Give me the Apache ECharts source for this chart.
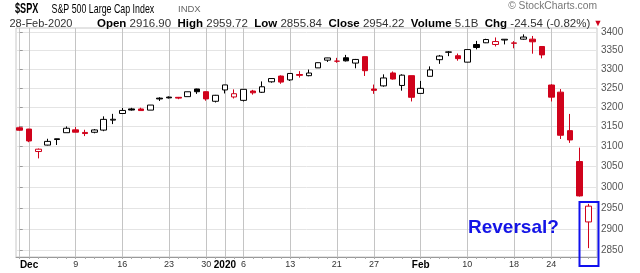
<!DOCTYPE html>
<html><head><meta charset="utf-8">
<script src="https://cdn.jsdelivr.net/npm/echarts@6/dist/echarts.min.js"></script>
<style>html,body{margin:0;padding:0;background:#fff}#c{width:640px;height:273px}</style>
</head><body><div id="c"></div>
<script>
const dates = ['2019-11-29','2019-12-02','2019-12-03','2019-12-04','2019-12-05','2019-12-06','2019-12-09','2019-12-10','2019-12-11','2019-12-12','2019-12-13','2019-12-16','2019-12-17','2019-12-18','2019-12-19','2019-12-20','2019-12-23','2019-12-24','2019-12-26','2019-12-27','2019-12-30','2019-12-31','2020-01-02','2020-01-03','2020-01-06','2020-01-07','2020-01-08','2020-01-09','2020-01-10','2020-01-13','2020-01-14','2020-01-15','2020-01-16','2020-01-17','2020-01-21','2020-01-22','2020-01-23','2020-01-24','2020-01-27','2020-01-28','2020-01-29','2020-01-30','2020-01-31','2020-02-03','2020-02-04','2020-02-05','2020-02-06','2020-02-07','2020-02-10','2020-02-11','2020-02-12','2020-02-13','2020-02-14','2020-02-18','2020-02-19','2020-02-20','2020-02-21','2020-02-24','2020-02-25','2020-02-26','2020-02-27','2020-02-28'];
const opens = [3147.18,3143.85,3087.41,3103.50,3119.21,3134.62,3141.86,3135.36,3135.75,3141.23,3166.65,3183.63,3195.40,3195.21,3192.32,3223.33,3226.05,3225.45,3227.20,3247.23,3240.09,3215.18,3244.67,3226.36,3217.55,3241.86,3238.59,3266.03,3281.27,3271.13,3285.35,3282.27,3302.97,3323.66,3321.03,3330.02,3315.77,3333.10,3247.16,3255.35,3289.46,3256.45,3282.33,3235.66,3280.61,3324.91,3344.92,3335.54,3318.28,3365.87,3370.50,3365.90,3378.08,3369.04,3380.39,3380.45,3360.50,3257.61,3238.94,3139.90,3062.54,2916.90];
const highs = [3150.30,3144.31,3094.97,3119.38,3119.45,3150.60,3148.87,3142.12,3143.98,3176.28,3182.68,3197.71,3198.22,3198.48,3205.48,3225.65,3227.78,3226.43,3240.08,3247.93,3240.92,3231.72,3258.14,3246.15,3246.84,3244.91,3267.07,3275.58,3282.99,3288.13,3294.25,3298.66,3317.11,3329.88,3329.79,3337.77,3326.88,3333.18,3258.85,3285.78,3293.47,3285.91,3282.33,3268.44,3306.92,3337.58,3347.96,3341.42,3352.26,3375.63,3381.47,3385.09,3380.69,3375.01,3393.52,3389.15,3360.76,3259.81,3246.99,3182.51,3097.07,2959.72];
const lows = [3139.34,3110.78,3070.33,3102.53,3103.76,3134.62,3135.46,3126.09,3133.21,3138.47,3156.51,3183.63,3191.03,3191.14,3192.32,3216.03,3222.30,3220.51,3227.20,3234.37,3216.57,3212.03,3235.53,3222.34,3214.64,3232.43,3236.67,3263.67,3260.86,3268.43,3277.19,3280.69,3302.82,3318.86,3316.61,3320.04,3301.87,3281.53,3234.50,3253.22,3271.89,3242.80,3214.68,3235.66,3280.61,3313.75,3334.39,3322.12,3317.77,3352.72,3369.72,3360.52,3366.15,3355.61,3378.83,3341.02,3328.45,3214.65,3118.77,3108.99,2977.39,2855.84];
const closes = [3140.98,3113.87,3093.20,3112.76,3117.43,3145.91,3135.96,3132.52,3141.63,3168.57,3168.80,3191.45,3192.52,3191.14,3205.37,3221.22,3224.01,3223.38,3239.91,3240.02,3221.29,3230.78,3257.85,3234.85,3246.28,3237.18,3253.05,3274.70,3265.35,3288.13,3283.15,3289.29,3316.81,3329.62,3320.79,3321.75,3325.54,3295.47,3243.63,3276.24,3273.40,3283.66,3225.52,3248.92,3297.59,3334.69,3345.78,3327.71,3352.09,3357.75,3379.45,3373.94,3380.16,3370.29,3386.15,3373.23,3337.75,3225.89,3128.21,3116.39,2978.76,2954.22];
const priorClose = 3153.63;
const lastVolume = '5.1B';
const labelDates = ['2019-12-02','2019-12-09','2019-12-16','2019-12-23','2019-12-30','2020-01-02','2020-01-06','2020-01-13','2020-01-21','2020-01-27','2020-02-03','2020-02-10','2020-02-18','2020-02-24'];
const labelTexts = ['Dec','9','16','23','30','2020','6','13','21','27','Feb','10','18','24'];
const boldLabels = ['Dec','2020','Feb'];
const yTicks = [2850,2900,2950,3000,3050,3100,3150,3200,3250,3300,3350,3400];
const yMin = 2835.5, yMax = 3411;

const FONT = "'Liberation Sans', Arial, sans-serif";
const RED = '#d0021b', BLACK = '#000000';
const n = dates.length;
const labelIdx = labelDates.map(d => dates.indexOf(d));
const allIdx = dates.map((d, i) => i);

const candleData = dates.map((d, i) => {
  const prev = i === 0 ? priorClose : closes[i - 1];
  const col = closes[i] < prev ? RED : BLACK;
  const fill = closes[i] > opens[i] ? '#ffffff' : col;
  return {
    value: [i, opens[i], closes[i], lows[i], highs[i]],
    itemStyle: { color: fill, color0: fill, borderColor: col, borderColor0: col, borderColorDoji: col, borderWidth: 1 }
  };
});

const last = n - 1;
const chg = closes[last] - closes[last - 1];
const pct = chg / closes[last - 1] * 100;
const mon = ['Jan','Feb','Mar','Apr','May','Jun','Jul','Aug','Sep','Oct','Nov','Dec'];
const ld = dates[last].split('-');
const dateStr = ld[2] + '-' + mon[+ld[1] - 1] + '-' + ld[0];
const infoText = '{b|Open} ' + opens[last].toFixed(2) + '  {b|High} ' + highs[last].toFixed(2) +
  '  {b|Low} ' + lows[last].toFixed(2) + '  {b|Close} ' + closes[last].toFixed(2) +
  '  {b|Volume} ' + lastVolume + '  {b|Chg} ' + chg.toFixed(2) + ' (' + pct.toFixed(2) + '%) {r|▼}';

const xMin = -0.4, xMax = 61.9;
const chart = echarts.init(document.getElementById('c'), null, { renderer: 'canvas' });
chart.setOption({
  animation: false,
  backgroundColor: '#ffffff',
  grid: { left: 16, right: 43, top: 28, bottom: 16, show: true, borderColor: '#c8c8c8', borderWidth: 1, backgroundColor: '#ffffff' },
  xAxis: [{
    type: 'value', min: xMin, max: xMax, position: 'bottom',
    axisLine: { show: true, lineStyle: { color: '#999' } },
    axisTick: { show: true, customValues: allIdx, length: 2, lineStyle: { color: '#aaa' } },
    axisLabel: {
      customValues: labelIdx, margin: 3, fontSize: 9, color: '#333', fontFamily: FONT,
      formatter: v => {
        const t = labelTexts[labelIdx.indexOf(v)];
        return boldLabels.indexOf(t) >= 0 ? '{b|' + t + '}' : t;
      },
      rich: { b: { fontWeight: 'bold', fontSize: 10, color: '#000', fontFamily: FONT } }
    },
    splitLine: { show: false }
  }],
  yAxis: {
    type: 'log', logBase: 10, position: 'right', min: yMin, max: yMax,
    axisLine: { show: true, lineStyle: { color: '#c8c8c8' } },
    axisTick: { show: true, customValues: yTicks, length: 3, lineStyle: { color: '#999' } },
    axisLabel: { customValues: yTicks, color: '#555', fontSize: 10, margin: 4, fontFamily: FONT, formatter: v => String(Math.round(v)) },
    splitLine: { show: true, lineStyle: { color: '#e4e4e4' } }
  },
  series: [
    {
      type: 'candlestick', z: 3, barWidth: 6,
      encode: { x: 0, y: [1, 2, 3, 4] },
      data: candleData,
      markLine: {
        z: 1, silent: true, symbol: ['none', 'none'], label: { show: false },
        lineStyle: { color: '#c4c4c4', type: 'solid', width: 1, opacity: 1 },
        emphasis: { disabled: true },
        data: labelIdx.map(i => [{ coord: [i, yMin] }, { coord: [i, yMax] }])
      }
    }
  ],
  graphic: [
    { type: 'text', x: 15, y: 9, scaleX: 0.65, style: { text: '$SPX', font: 'bold 14px ' + FONT, fill: '#000', verticalAlign: 'middle' } },
    { type: 'text', x: 51.5, y: 9, scaleX: 0.68, style: { text: 'S&P 500 Large Cap Index', font: '13px ' + FONT, fill: '#000', verticalAlign: 'middle' } },
    { type: 'text', x: 178, y: 9.5, style: { text: 'INDX', font: '9.5px ' + FONT, fill: '#666', verticalAlign: 'middle' } },
    { type: 'text', x: 9.5, y: 23.5, style: { text: dateStr, font: '11px ' + FONT, fill: '#333', verticalAlign: 'middle' } },
    { type: 'text', x: 97, y: 23.5, style: { text: infoText, font: '11.5px ' + FONT, fill: '#333', verticalAlign: 'middle',
        rich: { b: { fontWeight: 'bold', fontSize: 11.5, fill: '#000', fontFamily: FONT }, r: { fill: RED, fontSize: 9, fontFamily: FONT } } } },
    { type: 'text', x: 597, y: 6.5, style: { text: '© StockCharts.com', font: '10.3px ' + FONT, fill: '#777', align: 'right', verticalAlign: 'middle' } },
    { type: 'text', x: 468, y: 228, z: 10, style: { text: 'Reversal?', font: 'bold 19px ' + FONT, fill: '#1414e6', verticalAlign: 'middle' } },
    { type: 'rect', z: 10, shape: { x: 579.5, y: 202, width: 19, height: 64 }, style: { fill: 'none', stroke: '#1010ee', lineWidth: 2 } }
  ]
});
</script></body></html>
